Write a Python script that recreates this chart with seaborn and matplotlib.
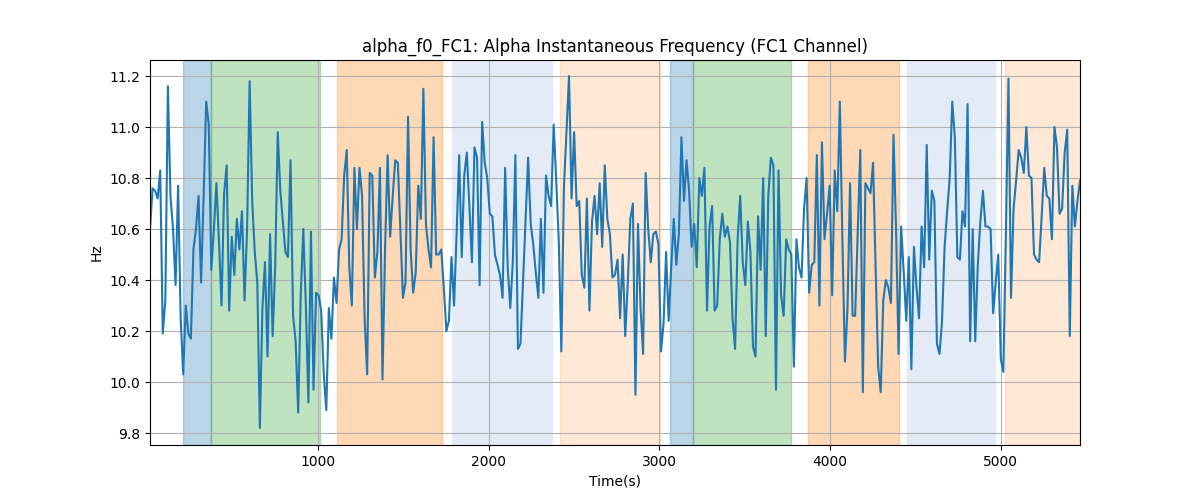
import numpy as np
import pandas as pd
import matplotlib
matplotlib.use("Agg")
import matplotlib.pyplot as plt
import seaborn as sns

# Alpha instantaneous frequency values (Hz)
freq_part1 = [10.60, 10.76, 10.75, 10.72, 10.83, 10.19, 10.32, 11.16, 10.73, 10.60,
              10.38, 10.77, 10.25, 10.03, 10.30, 10.19, 10.17, 10.52, 10.60, 10.73,
              10.39, 10.73, 11.10, 11.01, 10.44, 10.60, 10.78, 10.55, 10.30, 10.74,
              10.85, 10.28, 10.57, 10.42, 10.64, 10.52, 10.67, 10.32, 10.60, 11.18,
              10.71, 10.51, 10.39, 9.82, 10.29, 10.47, 10.10, 10.58, 10.18, 10.45,
              10.98, 10.75, 10.63, 10.51, 10.49, 10.87, 10.26, 10.16, 9.88, 10.34,
              10.60, 10.30, 9.92, 10.59]
freq_part2 = [9.97, 10.35, 10.34, 10.28, 10.03, 9.89, 10.29, 10.17, 10.41, 10.31,
              10.52, 10.56, 10.81, 10.91, 10.45, 10.30, 10.84, 10.60, 10.84, 10.73,
              10.25, 10.03, 10.82, 10.81, 10.41, 10.51, 10.84, 10.01, 10.52, 10.89,
              10.57, 10.73, 10.87, 10.86, 10.59, 10.33, 10.39, 11.04, 10.52, 10.35,
              10.43, 10.77, 10.64, 11.15, 10.62, 10.52, 10.45, 10.96, 10.50, 10.50,
              10.52, 10.37, 10.20, 10.24, 10.49, 10.30, 10.58, 10.89, 10.49, 10.81,
              10.90, 10.69]
freq_part3 = [10.47, 10.92, 10.88, 10.38, 11.02, 10.86, 10.80, 10.66, 10.65, 10.50,
              10.46, 10.42, 10.33, 10.84, 10.45, 10.29, 10.47, 10.89, 10.13, 10.15,
              10.39, 10.64, 10.88, 10.62, 10.54, 10.43, 10.33, 10.64, 10.35, 10.81,
              10.73, 10.69, 11.01, 10.79, 10.55, 10.12, 10.76, 10.98, 11.20, 10.72,
              10.98, 10.69, 10.71, 10.42, 10.37, 10.72, 10.28, 10.63, 10.73, 10.58,
              10.78, 10.53, 10.85, 10.64, 10.58, 10.41, 10.42, 10.48, 10.25, 10.50,
              10.18, 10.39, 10.64]
freq_part4 = [10.70, 9.95, 10.62, 10.29, 10.11, 10.82, 10.60, 10.47, 10.58, 10.59,
              10.54, 10.12, 10.23, 10.51, 10.24, 10.45, 10.64, 10.46, 10.58, 10.96,
              10.71, 10.87, 10.75, 10.53, 10.62, 10.45, 10.80, 10.73, 10.84, 10.28,
              10.61, 10.69, 10.28, 10.30, 10.56, 10.66, 10.57, 10.61, 10.55, 10.25,
              10.13, 10.56, 10.73, 10.47, 10.38, 10.63, 10.51, 10.14, 10.10, 10.65,
              10.44, 10.80, 10.18, 10.73, 10.88, 10.85, 9.97, 10.83, 10.34, 10.26,
              10.56, 10.52, 10.50]
freq_part5 = [10.06, 10.56, 10.45, 10.41, 10.68, 10.80, 10.35, 10.46, 10.47, 10.89,
              10.30, 10.94, 10.56, 10.66, 10.77, 10.34, 10.83, 10.67, 11.10, 10.56,
              10.08, 10.29, 10.78, 10.26, 10.26, 10.59, 10.91, 9.96, 10.78, 10.76,
              10.74, 10.86, 10.45, 10.06, 9.96, 10.32, 10.40, 10.37, 10.31, 10.97,
              10.60, 10.11, 10.61, 10.43, 10.24, 10.49, 10.05, 10.53, 10.37, 10.25,
              10.61, 10.45, 10.93, 10.48, 10.75, 10.71, 10.15, 10.11]
freq_part6 = [10.24, 10.53, 10.67, 10.80, 11.10, 10.96, 10.49, 10.48, 10.67, 10.61,
              11.09, 10.16, 10.60, 10.16, 10.46, 10.63, 10.75, 10.61, 10.61, 10.60,
              10.27, 10.39, 10.50, 10.09, 10.04, 10.59, 11.19, 10.33, 10.68, 10.79,
              10.91, 10.88, 10.82, 11.00, 10.81, 10.80, 10.50, 10.48, 10.47, 10.65,
              10.84, 10.73, 10.72, 10.56, 11.00, 10.92, 10.66, 10.68, 10.90, 10.99,
              10.18, 10.77, 10.61, 10.71, 10.79]

freq = freq_part1 + freq_part2 + freq_part3 + freq_part4 + freq_part5 + freq_part6
t_start, t_end = 16, 5464
time = np.linspace(t_start, t_end, len(freq))

# Shaded segments: (start, end, colour, alpha)
span_starts = [209, 373, 1111, 1785, 2418, 3062, 3197, 3871, 4450, 5025]
span_ends = [373, 1012, 1726, 2371, 3004, 3197, 3771, 4404, 4966, 5464]
span_colors = ["tab:blue", "tab:green", "tab:orange", "#e3ecf6", "tab:orange",
               "tab:blue", "tab:green", "tab:orange", "#e3ecf6", "tab:orange"]
span_alphas = [0.3, 0.3, 0.3, 1.0, 0.17, 0.3, 0.3, 0.3, 1.0, 0.17]

df = pd.DataFrame({"Time(s)": time, "Hz": freq})

fig, ax = plt.subplots(figsize=(12, 5), dpi=100)
for s, e, c, a in zip(span_starts, span_ends, span_colors, span_alphas):
    ax.axvspan(s, e, color=c, alpha=a, zorder=1)
sns.lineplot(data=df, x="Time(s)", y="Hz", ax=ax, color="tab:blue", linewidth=1.5, zorder=2)
ax.grid(True)
ax.set_xlim(t_start, t_end)
ax.set_ylim(9.753, 11.263)
ax.set_title("alpha_f0_FC1: Alpha Instantaneous Frequency (FC1 Channel)")
ax.set_xlabel("Time(s)")
ax.set_ylabel("Hz")
fig.savefig("out.png", dpi=100)
